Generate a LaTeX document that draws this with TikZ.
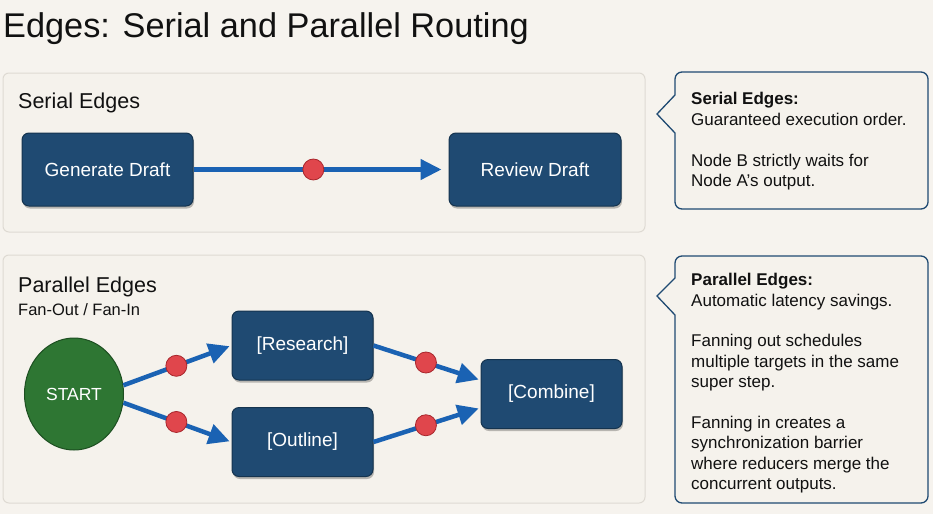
\documentclass[tikz,border=0pt]{standalone}
\usepackage{fontspec}
\setmainfont{Liberation Sans}
\usetikzlibrary{arrows.meta,shadows,shapes.geometric}
\definecolor{bg}{HTML}{F6F3EE}
\definecolor{panelfill}{HTML}{F5F2EC}
\definecolor{panelline}{HTML}{DEDAD3}
\definecolor{boxblue}{HTML}{1F4A72}
\definecolor{boxline}{HTML}{15344F}
\definecolor{flowblue}{HTML}{1A62B3}
\definecolor{dotred}{HTML}{E0464C}
\definecolor{dotline}{HTML}{A8262C}
\definecolor{startgreen}{HTML}{2E7633}
\definecolor{startline}{HTML}{1D4F21}
\definecolor{calloutline}{HTML}{1F4A72}
\definecolor{ink}{HTML}{111111}
\tikzset{
  panel/.style={draw=panelline, fill=panelfill, line width=1pt, rounded corners=6pt},
  stepbox/.style={rectangle, rounded corners=7pt, fill=boxblue, draw=boxline, line width=1pt,
    text=white, font=\fontsize{19}{22}\selectfont, minimum width=141pt, minimum height=69pt,
    drop shadow={shadow xshift=1pt, shadow yshift=-2.5pt, opacity=0.25, fill=black}},
  startnode/.style={ellipse, fill=startgreen, draw=startline, line width=1pt, text=white,
    font=\fontsize{17.5}{20}\selectfont, minimum width=99pt, minimum height=112pt, inner sep=0pt},
  flow/.style={draw=flowblue, line width=4.5pt, -{Triangle[length=21pt,width=20pt]}},
  reddot/.style={circle, fill=dotred, draw=dotline, line width=0.8pt, minimum size=21pt, inner sep=0pt},
  callout/.style={draw=calloutline, fill=panelfill, line width=1.3pt},
  calltext/.style={anchor=north west, align=left, text=ink, font=\fontsize{17}{20.5}\selectfont, inner sep=0pt},
  paneltitle/.style={anchor=base west, text=ink, font=\fontsize{21.5}{24}\selectfont, inner sep=0pt},
}
\begin{document}
\begin{tikzpicture}[x=1pt,y=-1pt]
\useasboundingbox[fill=bg] (0,0) rectangle (933,514);

% title
\node[anchor=base west, inner sep=0pt, text=ink, font=\fontsize{34.3}{40}\selectfont] (title) at (3,37) {Edges: Serial and Parallel Routing};

% panels
\draw[panel] (3,73) rectangle (645,232);
\draw[panel] (3,255) rectangle (645,503);

% serial panel
\node[paneltitle] (sertitle) at (18,108) {Serial Edges};
\node[stepbox, minimum width=171pt, minimum height=73pt] (gen) at (107.5,169.5) {Generate Draft};
\node[stepbox, minimum width=172pt, minimum height=73pt] (rev) at (535,169.5) {Review Draft};
\draw[flow, shorten >=7pt] (gen) -- node[reddot, pos=0.47] (d0) {} (rev);

% parallel panel
\node[paneltitle] (partitle) at (18,292) {Parallel Edges};
\node[anchor=base west, inner sep=0pt, text=ink, font=\fontsize{16.5}{19}\selectfont] (parsub) at (18,315) {Fan-Out / Fan-In};
\node[startnode] (start) at (74,394) {START};
\node[stepbox] (research) at (302.5,345.5) {[Research]};
\node[stepbox] (outline) at (302.5,442) {[Outline]};
\node[stepbox] (combine) at (551.5,394) {[Combine]};
\draw[flow, shorten >=2pt] (start.10) -- node[reddot, pos=0.49] (d1) {} (research.west);
\draw[flow, shorten >=2pt] (start.-10) -- node[reddot, pos=0.49] (d2) {} (outline.west);
\draw[flow, shorten >=2pt] (research.east) -- node[reddot, pos=0.49] (d3) {} (combine.169);
\draw[flow, shorten >=2pt] (outline.east) -- node[reddot, pos=0.49] (d4) {} (combine.191);

% serial callout
\draw[callout] (675,95) [rounded corners=7pt] -- (675,72) -- (928,72) -- (928,209) -- (675,209) [sharp corners] -- (675,133) -- (657,114) -- cycle;
\node[calltext] (sertext) at (691,92) {\textbf{Serial Edges:}\\Guaranteed execution order.\\[20.5pt]Node B strictly waits for\\Node A's output.};

% parallel callout
\draw[callout] (675,278) [rounded corners=7pt] -- (675,256) -- (928,256) -- (928,503) -- (675,503) [sharp corners] -- (675,315) -- (657,296) -- cycle;
\node[calltext] (partext) at (691,273) {\textbf{Parallel Edges:}\\Automatic latency savings.\\[20pt]Fanning out schedules\\multiple targets in the same\\super step.\\[20pt]Fanning in creates a\\synchronization barrier\\where reducers merge the\\concurrent outputs.};
\end{tikzpicture}
\end{document}
